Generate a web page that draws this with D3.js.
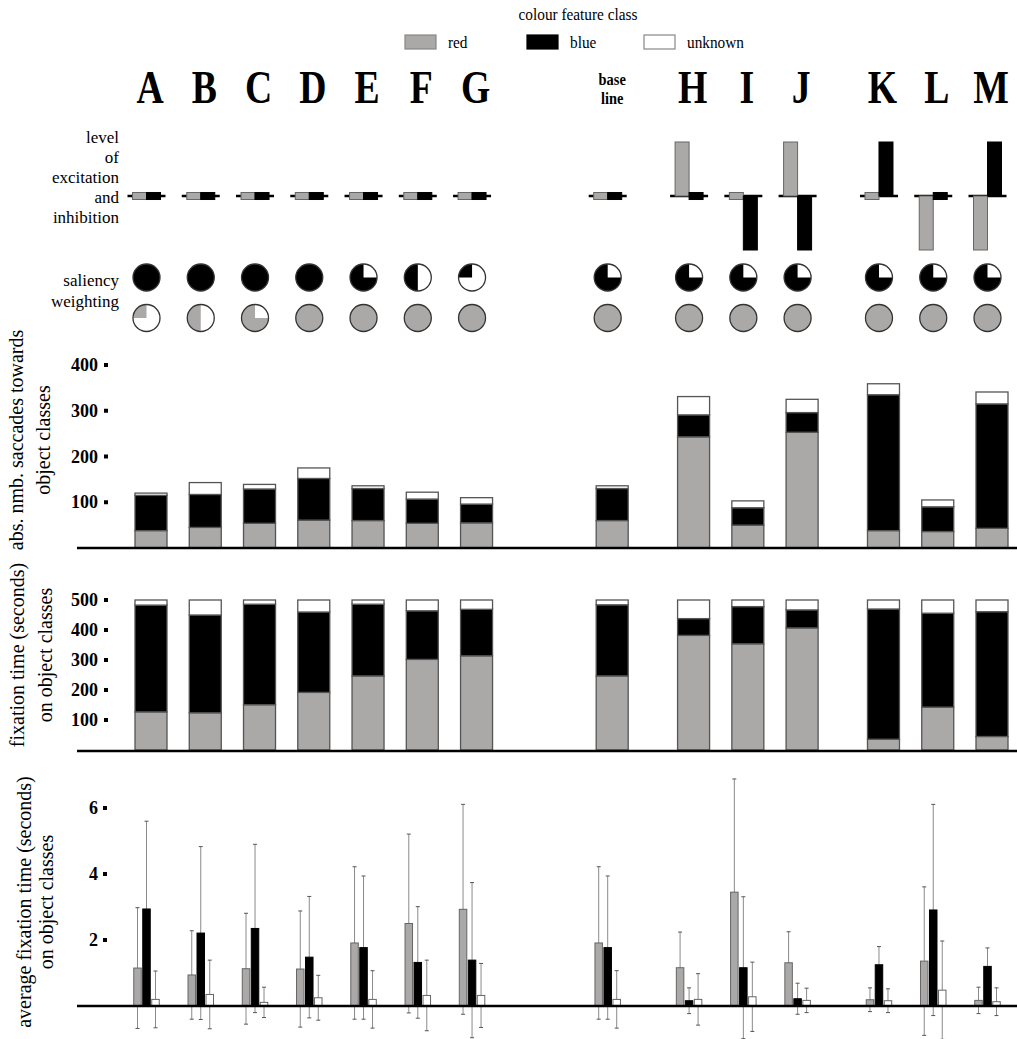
<!DOCTYPE html>
<html><head><meta charset="utf-8">
<script src="https://cdn.jsdelivr.net/npm/d3@7"></script>
<style>
body{margin:0;background:#fff}
svg{display:block}
text{font-family:"Liberation Serif","Times New Roman",serif;fill:#000}
</style>
</head><body>
<svg id="chart" width="1017" height="1039"></svg>
<script>
// ---------------- data ----------------
const categories = ["A","B","C","D","E","F","G","base line","H","I","J","K","L","M"];
const groupOf    = [0,0,0,0,0,0,0,1,2,2,2,3,3,3];
const seriesNames = ["red","blue","unknown"];
// level of excitation (1), neutral (0), inhibition (-1)
const excRed  = [0,0,0,0,0,0,0,0,1,0,1,0,-1,-1];
const excBlue = [0,0,0,0,0,0,0,0,0,-1,-1,1,0,1];
// saliency weighting (fraction of the disc)
const salBlue = [1,1,1,1,0.75,0.5,0.25,0.75,0.75,0.75,0.75,0.75,0.75,0.75];
const salRed  = [0.25,0.5,0.75,1,1,1,1,1,1,1,1,1,1,1];
// abs. number of saccades
const saccRed     = [38,45,54,61,60,54,55,60,243,50,253,38,36,43];
const saccBlue    = [77,72,75,91,70,53,41,70,48,38,43,297,54,272];
const saccUnknown = [5,26,10,23,6,15,14,6,40,15,29,24,15,26];
// fixation time (seconds)
const fixRed     = [127,124,151,192,247,302,314,247,382,354,407,36,143,45];
const fixBlue    = [356,326,335,268,239,162,155,237,56,124,60,434,313,416];
const fixUnknown = [17,50,14,40,14,36,31,16,62,22,33,30,44,39];
// average fixation time (seconds) mean and sd
const avgRed       = [1.15,0.94,1.13,1.12,1.91,2.50,2.93,1.91,1.16,3.45,1.31,0.19,1.36,0.17];
const avgRedSd     = [1.83,1.34,1.68,1.76,2.31,2.71,3.18,2.31,1.08,3.43,0.94,0.36,2.25,0.40];
const avgBlue      = [2.94,2.21,2.35,1.48,1.77,1.32,1.39,1.77,0.16,1.16,0.22,1.25,2.91,1.20];
const avgBlueSd    = [2.66,2.62,2.55,1.84,2.17,1.69,2.35,2.17,0.39,2.15,0.47,0.55,3.20,0.56];
const avgUnknown   = [0.20,0.35,0.11,0.25,0.20,0.32,0.32,0.20,0.20,0.28,0.17,0.16,0.48,0.13];
const avgUnknownSd = [0.86,1.04,0.46,0.68,0.87,1.07,0.97,0.87,0.78,1.05,0.37,0.36,1.49,0.42];
// tick labels
const ticksSacc = [100,200,300,400];
const ticksFix  = [100,200,300,400,500];
const ticksAvg  = [2,4,6];

// ---------------- layout ----------------
const W = 1017, H = 1039;
const colors = {red:"#aba8a8", blue:"#000000", unknown:"#ffffff"};
const strokeCol = "#555";
const svg = d3.select("#chart");

// slot positions: unit step inside groups, wider gaps between groups
const gapAfterGroup = [2.5, 1.5, 1.5];
const slots = [];
categories.forEach((c,i)=>{
  if(i===0) slots.push(0);
  else if(groupOf[i]!==groupOf[i-1]) slots.push(slots[i-1]+gapAfterGroup[groupOf[i-1]]);
  else slots.push(slots[i-1]+1);
});
const x = d3.scaleLinear().domain([0, d3.max(slots)]).range([151, 992]);
const cx = i => x(slots[i]);
const off = -4.5; // small items are shifted left of group centre

// ---------------- legend ----------------
const lg = svg.append("g");
lg.append("text").attr("transform","translate(578,20) scale(0.9,1)").attr("text-anchor","middle")
  .attr("font-size",17).text("colour feature class");
const legendX = [405, 527, 644];
seriesNames.forEach((s,k)=>{
  lg.append("rect").attr("x",legendX[k]).attr("y",35).attr("width",31).attr("height",14)
    .attr("fill",colors[s]).attr("stroke",s==="blue"?"#000":"#888").attr("stroke-width",1.2);
  const tx = legendX[k]+43;
  lg.append("text").attr("transform",`translate(${tx},48) scale(0.9,1)`).attr("font-size",17).text(s);
});

// ---------------- category letters ----------------
categories.forEach((c,i)=>{
  const px = cx(i);
  if(c==="base line"){
    const parts = c.split(" ");
    parts.forEach((p,k)=>{
      svg.append("text").attr("transform",`translate(${px},${85+k*19}) scale(0.9,1)`)
        .attr("text-anchor","middle").attr("font-weight","bold").attr("font-size",16).text(p);
    });
  } else {
    svg.append("text").attr("transform",`translate(${px-1},103) scale(0.82,1)`)
      .attr("text-anchor","middle").attr("font-weight","bold").attr("font-size",46).text(c);
  }
});

// ---------------- excitation / inhibition ----------------
const rowLabels1 = ["level","of","excitation","and","inhibition"];
rowLabels1.forEach((t,k)=>{
  svg.append("text").attr("x",119).attr("y",143+k*20).attr("text-anchor","end").attr("font-size",17).text(t);
});
const ye = d3.scaleLinear().domain([-1,1]).range([250,142]);
const neutralHalf = 0.065;
categories.forEach((c,i)=>{
  const c0 = cx(i)+off;
  const g = svg.append("g");
  g.append("line").attr("x1",c0-19).attr("x2",c0+19).attr("y1",ye(0)).attr("y2",ye(0))
    .attr("stroke","#000").attr("stroke-width",2.5);
  [["red",excRed[i],-14],["blue",excBlue[i],0]].forEach(([s,v,dx])=>{
    let y0, y1;
    if(v===0){ y0 = ye(neutralHalf); y1 = ye(-neutralHalf); }
    else { y0 = Math.min(ye(v),ye(0)); y1 = Math.max(ye(v),ye(0)); }
    g.append("rect").attr("x",c0+dx).attr("y",y0).attr("width",14).attr("height",y1-y0)
      .attr("fill",colors[s]).attr("stroke",s==="blue"?"#000":"#666").attr("stroke-width",1);
  });
});

// ---------------- saliency weighting ----------------
svg.append("text").attr("x",119).attr("y",286).attr("text-anchor","end").attr("font-size",17).text("saliency");
svg.append("text").attr("x",119).attr("y",307).attr("text-anchor","end").attr("font-size",17).text("weighting");
const r = 13.5;
const arc = d3.arc().innerRadius(0).outerRadius(r);
categories.forEach((c,i)=>{
  const c0 = cx(i)+off;
  [[salBlue[i],"blue",277.5],[salRed[i],"red",318]].forEach(([f,s,yy])=>{
    const g = svg.append("g").attr("transform",`translate(${c0},${yy})`);
    g.append("circle").attr("r",r).attr("fill","#fff");
    g.append("path").attr("d",arc({startAngle:2*Math.PI*(1-f),endAngle:2*Math.PI})).attr("fill",colors[s]);
    g.append("circle").attr("r",r).attr("fill","none").attr("stroke","#333").attr("stroke-width",1.3);
  });
});

// ---------------- helpers ----------------
function yTicks(scale, ticks, labelRight, sqX){
  ticks.forEach(t=>{
    svg.append("text").attr("x",labelRight).attr("y",scale(t)+6).attr("text-anchor","end")
      .attr("font-weight","bold").attr("font-size",18).text(t);
    svg.append("rect").attr("x",sqX).attr("y",scale(t)-2).attr("width",4).attr("height",4).attr("fill","#000");
  });
}
function yTitle(lines, baselines, cy){
  lines.forEach((t,k)=>{
    svg.append("text").attr("transform",`translate(${baselines[k]},${cy}) rotate(-90)`)
      .attr("text-anchor","middle").attr("font-size",20).text(t);
  });
}
function baseline(y){
  svg.append("line").attr("x1",77).attr("x2",W).attr("y1",y).attr("y2",y).attr("stroke","#000").attr("stroke-width",2.5);
}
function stacked(scale, red, blue, unk){
  const rows = categories.map((c,i)=>({cat:c, i, red:red[i], blue:blue[i], unknown:unk[i]}));
  const st = d3.stack().keys(seriesNames)(rows);
  st.forEach(layer=>{
    svg.append("g").selectAll("rect").data(layer).join("rect")
      .attr("x",d=>cx(d.data.i)-16).attr("width",32)
      .attr("y",d=>scale(d[1])).attr("height",d=>scale(d[0])-scale(d[1]))
      .attr("fill",colors[layer.key]).attr("stroke",strokeCol).attr("stroke-width",1.3);
  });
}

// ---------------- saccades panel ----------------
const ySacc = d3.scaleLinear().domain([0,400]).range([548,365]);
stacked(ySacc, saccRed, saccBlue, saccUnknown);
baseline(548);
yTicks(ySacc, ticksSacc, 98, 104);
yTitle(["abs. nmb. saccades towards","object classes"],[23,50],440);

// ---------------- fixation time panel ----------------
const yFix = d3.scaleLinear().domain([0,500]).range([750,600]);
stacked(yFix, fixRed, fixBlue, fixUnknown);
baseline(751);
yTicks(yFix, ticksFix, 98, 104);
yTitle(["fixation time (seconds)","on object classes"],[24,52],655);

// ---------------- average fixation time panel ----------------
const yAvg = d3.scaleLinear().domain([0,6]).range([1006,808]);
const avgSeries = [
  {key:"red", m:avgRed, sd:avgRedSd, dx:-13.5},
  {key:"blue", m:avgBlue, sd:avgBlueSd, dx:-4.5},
  {key:"unknown", m:avgUnknown, sd:avgUnknownSd, dx:4.5}
];
const bw = 7.5;
avgSeries.forEach(s=>{
  const g = svg.append("g");
  categories.forEach((c,i)=>{
    const bx = cx(i)+s.dx;
    const m = s.m[i], sd = s.sd[i];
    g.append("line").attr("x1",bx).attr("x2",bx).attr("y1",yAvg(m+sd)).attr("y2",yAvg(m-sd))
      .attr("stroke","#8a8a8a").attr("stroke-width",1);
    [m+sd, m-sd].forEach(v=>{
      g.append("line").attr("x1",bx-2).attr("x2",bx+2).attr("y1",yAvg(v)).attr("y2",yAvg(v))
        .attr("stroke","#555").attr("stroke-width",1);
    });
    g.append("rect").attr("x",bx-bw/2).attr("width",bw).attr("y",yAvg(m)).attr("height",yAvg(0)-yAvg(m))
      .attr("fill",colors[s.key]).attr("stroke",s.key==="blue"?"#000":"#666").attr("stroke-width",1);
  });
});
baseline(1006);
yTicks(yAvg, ticksAvg, 98, 103);
yTitle(["average fixation time (seconds)","on object classes"],[31,53],902);
</script>
</body></html>
